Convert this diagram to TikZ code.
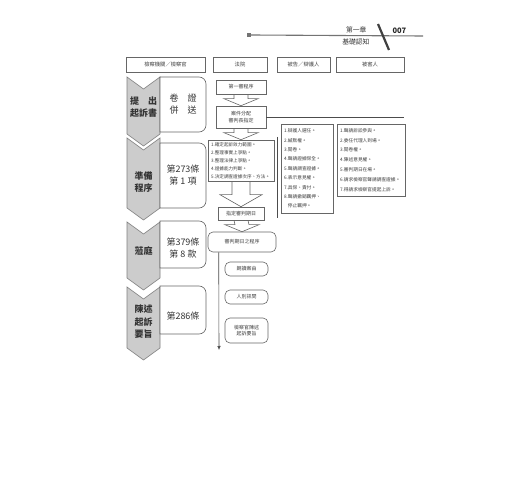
\documentclass[tikz,border=0pt]{standalone}
\usepackage{fontspec}
\setmainfont{Noto Sans CJK TC}
\usetikzlibrary{calc,arrows.meta,backgrounds}
\tikzset{
  hdr/.style={draw=black!60, line width=0.6pt, minimum height=15, inner sep=0, font=\fontsize{5.3}{6}\selectfont, text=black!75},
  cbox/.style={draw=black!60, line width=0.6pt, inner sep=0, font=\fontsize{5}{7}\selectfont, align=center, text=black!75},
  rbox/.style={cbox, rounded corners=5},
  listbox/.style={draw=black!60, line width=0.6pt, inner xsep=3, inner ysep=1, align=left, text=black!75},
  chev/.style={fill=black!20, draw=black!50, line width=0.6pt},
  rowbox/.style={fill=white, draw=black!60, line width=0.6pt},
  glabel/.style={font=\bfseries\fontsize{9}{12}\selectfont, align=center, text=black!80},
  blabel/.style={font=\fontsize{9}{12}\selectfont, align=center, text=black!80},
  harrow/.style={draw=black!60, fill=white, line width=0.6pt},
  thinline/.style={draw=black!70, line width=0.6pt},
}
\newcommand{\chevron}[2]{\draw[chev] (127,-#1) -- (143.5,-#1-12) -- (160,-#1) -- (160,-#2) -- (143.5,-#2-12) -- (127,-#2) -- cycle;}
\newcommand{\rowpanel}[2]{\draw[rowbox] (160,-#1) -- (199,-#1) arc[start angle=90,end angle=0,radius=7] -- (206,-#2+7) arc[start angle=0,end angle=-90,radius=7] -- (160,-#2) -- cycle;}
\newcommand{\harrowbetween}[5]{\draw[harrow] ($(#1.south)+(-#3,0)$) -- ($(#2.north)+(-#3,#5)$) -- ($(#2.north)+(-#4,#5)$) -- (#2.north) -- ($(#2.north)+(#4,#5)$) -- ($(#2.north)+(#3,#5)$) -- ($(#1.south)+(#3,0)$);}
\begin{document}
\begin{tikzpicture}[x=1pt,y=1pt]
\useasboundingbox (0,0) rectangle (520,-500);

% page header
\node[fill=black!55, minimum size=4, inner sep=0] (sq) at (249,-35) {};
\coordinate (hend) at (423,-36);
\draw[draw=black!55, line width=1.1pt] (sq.east) -- (hend);
\draw[draw=black!75, line width=2.2pt] (378,-24) -- (389,-50);
\node[font=\fontsize{6.8}{7}\selectfont, text=black!80, anchor=east] (chap) at (370,-30) {第一章};
\node[font=\fontsize{6.8}{7}\selectfont, text=black!80, anchor=east] (chapt) at (373,-42) {基礎認知};
\node[font=\bfseries\fontsize{7.5}{8}\selectfont, text=black!85, anchor=west] (pg) at (389,-31) {007};

% column headers
\node[hdr, minimum width=79] (h1) at (165.5,-64.5) {檢察機關／檢察官};
\node[hdr, minimum width=54] (h2) at (240,-64.5) {法院};
\node[hdr, minimum width=53] (h3) at (303.5,-64.5) {被告／辯護人};
\node[hdr, minimum width=68] (h4) at (370,-64.5) {被害人};

% left chevrons and panels
\chevron{77}{134}
\chevron{138}{208}
\chevron{222}{278}
\chevron{287}{348}
\rowpanel{77}{132}
\rowpanel{143}{208}
\rowpanel{221}{268}
\rowpanel{286}{334}
\node[glabel] (g1) at (143.5,-107) {提　出\\起訴書};
\node[glabel] (g2) at (143.5,-182) {準備\\程序};
\node[glabel] (g3) at (143.5,-251) {蒞庭};
\node[glabel, font=\bfseries\fontsize{9}{12.5}\selectfont] (g4) at (143.5,-322) {陳述\\起訴\\要旨};
\node[blabel] (b1) at (183,-104) {卷　證\\併　送};
\node[blabel] (b2) at (183,-175) {第273條\\第 1 項};
\node[blabel] (b3) at (183,-248) {第379條\\第 8 款};
\node[blabel] (b4) at (183,-316) {第286條};

% court column
\node[cbox, minimum width=50, minimum height=14] (c1) at (241,-87) {第一審程序};
\node[cbox, minimum width=50, minimum height=22, font=\fontsize{5}{6.5}\selectfont] (c2) at (241,-117) {案件分配\\審判長指定};
\node[listbox, minimum width=66, minimum height=41, text width=60, font=\fontsize{4.6}{8}\selectfont] (c3) at (241,-160.5) {1.確定起訴效力範圍。\\2.整理事實上爭點。\\3.整理法律上爭點。\\4.證據能力判斷。\\5.決定調查證據次序、方法。};
\node[cbox, minimum width=46, minimum height=13] (c4) at (241,-213.5) {指定審判期日};
\node[rbox, minimum width=68, minimum height=20] (c5) at (242,-242) {審判期日之程序};
\node[rbox, minimum width=43, minimum height=14] (c6) at (246.5,-269) {朗讀案由};
\node[rbox, minimum width=43, minimum height=14] (c7) at (246.5,-297) {人別訊問};
\node[rbox, minimum width=43, minimum height=25, font=\fontsize{5}{6.5}\selectfont] (c8) at (246.5,-330.5) {檢察官陳述\\起訴要旨};

\begin{pgfonlayer}{background}
\fill[white] (0,0) rectangle (520,-500);
\harrowbetween{c1}{c2}{7}{17}{7}
\harrowbetween{c2}{c3}{7}{17}{7}
\harrowbetween{c3}{c4}{9}{21}{12}
\harrowbetween{c4}{c5}{7}{17}{7}
\end{pgfonlayer}

% timeline
\coordinate (ts) at ($(c5.south west)+(11,0)$);
\coordinate (te) at (219,-350);
\draw[thinline, -{Latex[length=4,width=3.5]}] (ts) -- (te);

% separator lines
\coordinate (lend) at (404,-117);
\draw[thinline] (c2.east) -- (lend);
\coordinate (vt) at (277,-137);
\coordinate (vb) at (277,-218);
\draw[thinline] (vt) -- (vb);

% party lists
\node[listbox, minimum width=52, minimum height=89, text width=46, font=\fontsize{4.7}{9.4}\selectfont] (d) at (307,-168.5) {1.辯護人選任。\\2.緘默權。\\3.閱卷。\\4.聲請證據保全。\\5.聲請調查證據。\\6.表示意見權。\\7.具保、責付。\\8.聲請撤銷羈押、\\\phantom{8.}停止羈押。};
\node[listbox, minimum width=68, minimum height=72, text width=62, font=\fontsize{4.7}{9.8}\selectfont] (v) at (371,-160) {1.聲請訴訟參與。\\2.委任代理人到場。\\3.閱卷權。\\4.陳述意見權。\\5.審判期日在場。\\6.請求檢察官聲請調查證據。\\7.得請求檢察官提起上訴。};
\end{tikzpicture}
\end{document}
